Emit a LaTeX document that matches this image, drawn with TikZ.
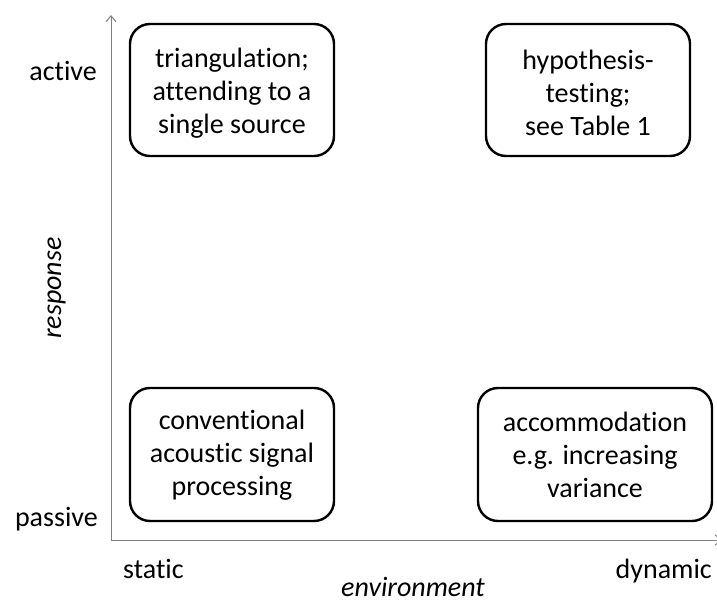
\documentclass[tikz,border=0pt]{standalone}
\usepackage{fontspec}
\setmainfont{Carlito}[Ligatures={NoCommon}]
\usetikzlibrary{arrows.meta}
\begin{document}
\begin{tikzpicture}[x=1pt,y=-1pt,
  quad/.style={draw=black, line width=2.4pt, rounded corners=20pt, inner sep=0pt},
  boxtext/.style={align=center, inner sep=0pt, font=\fontsize{28}{33}\selectfont},
  lbl/.style={inner sep=0pt, font=\fontsize{28}{33}\selectfont},
  axis/.style={draw=black!50, line width=1pt, -{Straight Barb[length=6pt,width=10pt]}}]
\useasboundingbox (0,0) rectangle (717,604);
\fill[white] (0,0) rectangle (717,604);
% axes
\coordinate (O) at (111,540);
\coordinate (Ytop) at (111,15);
\coordinate (Xend) at (722,540);
\draw[axis] (O) -- (Ytop);
\draw[axis] (O) -- (Xend);
% boxes
\node[quad, minimum width=204pt, minimum height=132pt] (tl) at (232,90) {};
\node[boxtext] (tlt) at (232,93) {triangulation;\\attending to a\\single source};
\node[quad, minimum width=204pt, minimum height=132pt] (tr) at (588,90) {};
\node[boxtext] (trt) at (588,93) {hypothesis-\\testing;\\see Table 1};
\node[quad, minimum width=204pt, minimum height=133pt] (bl) at (232,454.5) {};
\node[boxtext] (blt) at (232,455) {conventional\\acoustic signal\\processing};
\node[quad, minimum width=234pt, minimum height=133pt] (br) at (595,454.5) {};
\node[boxtext] (brt) at (595,455) {accommodation\\e.g. increasing\\variance};
% labels
\node[lbl, anchor=base east] (active) at (97,81) {active};
\node[lbl, anchor=base east] (passive) at (98,526) {passive};
\node[lbl, anchor=base west] (static) at (123,578) {static};
\node[lbl, anchor=base east] (dynamic) at (712,578) {dynamic};
\node[lbl, anchor=base, font=\fontsize{28}{33}\selectfont\itshape] (env) at (413,596) {environment};
\node[lbl, anchor=base, rotate=90, font=\fontsize{28}{33}\selectfont\itshape] (resp) at (61,288) {response};
\end{tikzpicture}
\end{document}
